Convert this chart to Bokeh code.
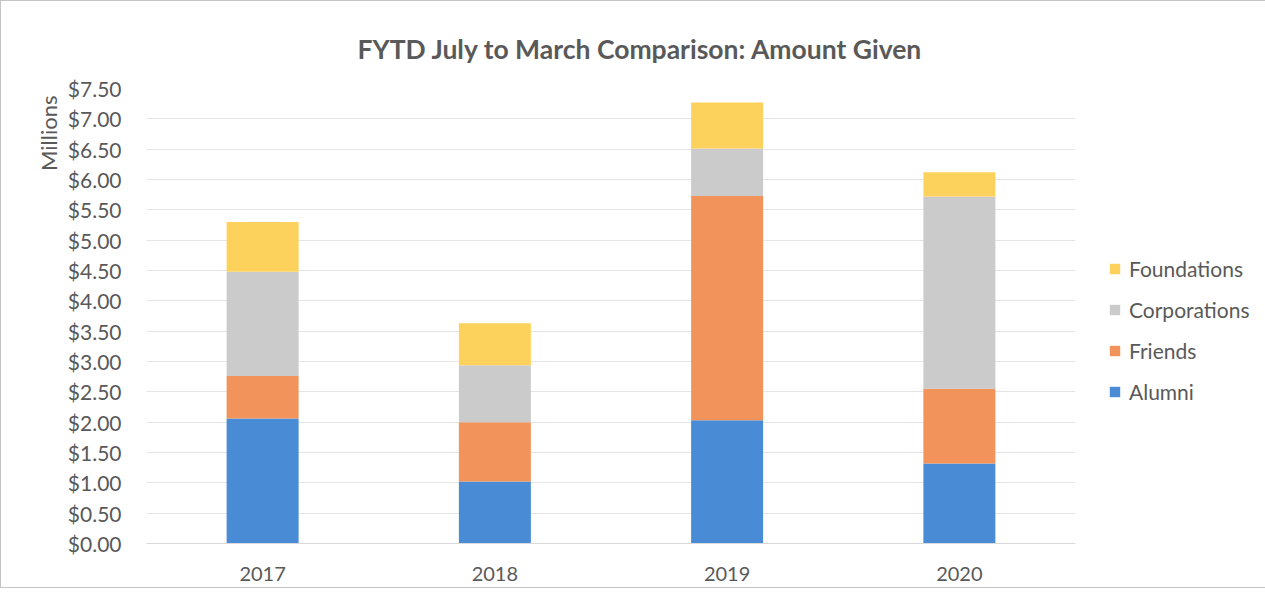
from bokeh.plotting import figure
from bokeh.models import (FactorRange, Range1d, NumeralTickFormatter, Legend,
                          LegendItem, Title, FixedTicker, ColumnDataSource)
from bokeh.embed import file_html
from bokeh.resources import INLINE

years = ["2017", "2018", "2019", "2020"]
alumni = [2.06, 1.02, 2.03, 1.32]
friends = [0.70, 0.98, 3.70, 1.23]
corporations = [1.72, 0.94, 0.78, 3.17]
foundations = [0.82, 0.69, 0.76, 0.40]
series = ["Alumni", "Friends", "Corporations", "Foundations"]
y_ticks = [0.0, 0.5, 1.0, 1.5, 2.0, 2.5, 3.0, 3.5, 4.0, 4.5, 5.0, 5.5, 6.0, 6.5, 7.0, 7.5]
title_text = "FYTD July to March Comparison: Amount Given"
y_label = "Millions"

colors = ["#4a8bd5", "#f2935c", "#cbcbcb", "#fdd25c"]
FONT = "Lato"
GRAY = "#595959"

source = ColumnDataSource(dict(year=years, Alumni=alumni, Friends=friends,
                               Corporations=corporations, Foundations=foundations))

p = figure(x_range=FactorRange(*years), y_range=Range1d(0, 7.5),
           frame_width=929, frame_height=455,
           output_backend="svg", toolbar_location=None,
           min_border_left=145, min_border_right=180, min_border_top=87,
           min_border_bottom=44)
p.styles = {"border": "1px solid #c4c4c4"}

renderers = p.vbar_stack(series, x="year", width=0.31, color=colors,
                         line_color=None, source=source)

# title
p.title.text = title_text
p.title.align = "left"
p.title.offset = 211
p.title.text_font = FONT
p.title.text_font_size = "26.5px"
p.title.text_font_style = "bold"
p.title.text_color = GRAY
p.title.standoff = 48

p.add_layout(Title(text=y_label, align="right", offset=7, standoff=5,
                   text_font=FONT, text_font_size="22px",
                   text_font_style="normal", text_color=GRAY), "left")

# axes
p.yaxis.ticker = FixedTicker(ticks=y_ticks)
p.yaxis.formatter = NumeralTickFormatter(format="$0.00")
p.yaxis.major_label_text_font = FONT
p.yaxis.major_label_text_font_size = "21px"
p.yaxis.major_label_text_color = GRAY
p.yaxis.axis_line_color = None
p.yaxis.major_tick_line_color = None
p.yaxis.minor_tick_line_color = None
p.yaxis.major_label_standoff = 19

p.xaxis.major_label_text_font = FONT
p.xaxis.major_label_text_font_size = "20px"
p.xaxis.major_label_text_color = GRAY
p.xaxis.axis_line_color = "#d9d9d9"
p.xaxis.major_tick_line_color = None
p.xaxis.minor_tick_line_color = None
p.xaxis.major_label_standoff = 17

p.xgrid.grid_line_color = None
p.ygrid.grid_line_color = "#e6e6e6"
p.outline_line_color = None

items = [LegendItem(label=s, renderers=[r]) for s, r in zip(series, renderers)][::-1]
legend = Legend(items=items, location=(33, 139))
legend.label_text_font = FONT
legend.label_text_font_size = "21px"
legend.label_text_color = GRAY
legend.glyph_width = 13
legend.glyph_height = 13
legend.label_height = 20
legend.spacing = 16
legend.padding = 0
legend.margin = 0
legend.label_standoff = 8
legend.border_line_color = None
legend.background_fill_alpha = 0
p.add_layout(legend, "right")

open("out.html", "w").write(file_html(p, INLINE))
